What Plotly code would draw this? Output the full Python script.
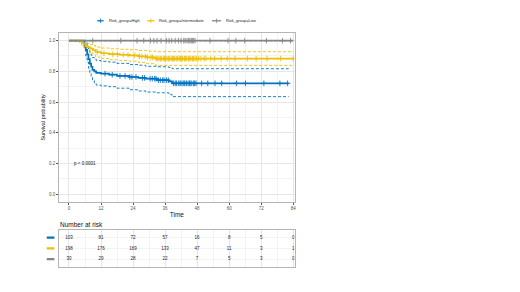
import numpy as np
import plotly.graph_objects as go

# ---------------- data ----------------
groups = ["Risk_group=High", "Risk_group=Intermediate", "Risk_group=Low"]
colors = ["#0073C2", "#EFC000", "#868686"]

high_t = [0, 5.8, 6.3, 6.8, 7.3, 7.8, 8.3, 8.8, 9.5, 10.2, 12, 15, 18, 22.5, 26, 28.7, 33, 37.4, 38.6]
high_s = [1.0, 0.97, 0.94, 0.91, 0.88, 0.85, 0.83, 0.81, 0.80, 0.79, 0.785, 0.778, 0.77, 0.763, 0.757, 0.752, 0.742, 0.735, 0.722]
high_lo = [1.0, 0.94, 0.90, 0.86, 0.82, 0.79, 0.76, 0.74, 0.725, 0.71, 0.705, 0.70, 0.69, 0.68, 0.672, 0.665, 0.66, 0.65, 0.635]
high_hi = [1.0, 1.0, 0.985, 0.965, 0.945, 0.92, 0.905, 0.89, 0.88, 0.87, 0.865, 0.86, 0.852, 0.844, 0.84, 0.833, 0.83, 0.825, 0.817]
high_end = 82.3
high_cens = [13.5, 16.2, 19.1, 21.0, 22.8, 23.6, 25.1, 27.5, 28.3, 30.4, 31.2, 32.1, 32.6, 33.5, 34.2, 35.1,
             35.6, 36.5, 37.2, 39.2, 39.8, 40.3, 41.1, 41.6, 42.0, 42.7, 43.1, 43.4, 44.0, 44.6, 45.1, 45.4,
             46.0, 46.7, 47.1, 47.6, 49.7, 52.0, 54.7, 57.2, 62.7, 66.1, 73.0, 79.0, 81.9]

int_t = [0, 4, 4.8, 5.5, 6.2, 7, 8, 9, 10, 12, 15, 19, 22.5, 26, 29, 32.4]
int_s = [1.0, 0.995, 0.985, 0.975, 0.965, 0.957, 0.948, 0.938, 0.926, 0.918, 0.912, 0.908, 0.904, 0.897, 0.891, 0.883]
int_lo = [1.0, 0.985, 0.97, 0.955, 0.942, 0.932, 0.92, 0.908, 0.893, 0.884, 0.875, 0.87, 0.866, 0.858, 0.85, 0.839]
int_hi = [1.0, 1.0, 1.0, 0.995, 0.988, 0.982, 0.975, 0.968, 0.958, 0.952, 0.947, 0.944, 0.941, 0.936, 0.932, 0.928]
int_end = 84.0
int_cens = [10.6, 13.1, 16.4, 18.2, 20.3, 22.1, 24.6, 26.4, 27.3, 28.6, 29.4, 30.7, 31.3, 32.6, 33.1, 33.7,
            34.2, 34.6, 35.3, 35.8, 36.1, 36.7, 37.2, 37.6, 38.3, 38.7, 39.1, 39.6, 40.2, 40.7, 41.3, 41.8,
            42.2, 42.6, 43.3, 43.7, 44.1, 44.8, 45.2, 45.7, 46.3, 46.6, 47.2, 47.8, 48.6, 49.4, 50.6, 51.3,
            53.1, 54.6, 57.0, 59.3, 62.2, 66.8, 70.1, 74.2, 79.3, 84.0]

low_t = [0]
low_s = [1.0]
low_lo = [1.0]
low_hi = [1.0]
low_end = 84.0
low_cens = [8.9, 19.4, 25.5, 28.0, 30.5, 31.8, 33.0, 34.5, 36.5, 37.5, 38.5, 39.8, 41.0, 42.0, 43.0,
            43.5, 44.2, 44.8, 45.3, 45.8, 46.2, 46.6, 47.2, 52.8, 59.6, 62.5, 65.8, 74.0, 80.0, 83.0]

risk_times = [0, 12, 24, 36, 48, 60, 72, 84]
risk_high = [103, 81, 72, 57, 16, 8, 5, 0]
risk_int = [198, 176, 169, 133, 47, 11, 3, 1]
risk_low = [30, 29, 28, 22, 7, 5, 3, 0]

pval_text = "p < 0.0001"
x_ticks = [0, 12, 24, 36, 48, 60, 72, 84]
y_ticks = [0.0, 0.2, 0.4, 0.6, 0.8, 1.0]

# ---------------- figure ----------------
fig = go.Figure()

curves = [
    (high_t, high_s, high_lo, high_hi, high_end, high_cens),
    (int_t, int_s, int_lo, int_hi, int_end, int_cens),
    (low_t, low_s, low_lo, low_hi, low_end, low_cens),
]

for (t, s, lo, hi, end, cens), col, name in zip(curves, colors, groups):
    xs = list(t) + [end]
    for ci in (lo, hi):
        fig.add_trace(go.Scatter(x=xs, y=list(ci) + [ci[-1]], mode="lines", line_shape="hv",
                                 line=dict(color=col, width=0.9, dash="3px,2px"),
                                 showlegend=False, hoverinfo="skip", xaxis="x", yaxis="y"))

for (t, s, lo, hi, end, cens), col, name in zip(curves, colors, groups):
    xs = list(t) + [end]
    fig.add_trace(go.Scatter(x=xs, y=list(s) + [s[-1]], mode="lines", line_shape="hv",
                             line=dict(color=col, width=1.7), name=name, showlegend=False,
                             xaxis="x", yaxis="y"))
    idx = np.searchsorted(np.array(t), np.array(cens), side="right") - 1
    cy = np.array(s)[idx]
    fig.add_trace(go.Scatter(x=cens, y=cy, mode="markers",
                             marker=dict(symbol="cross-thin", size=4, line=dict(color=col, width=0.9)),
                             showlegend=False, hoverinfo="skip", xaxis="x", yaxis="y"))

# risk table
rows = [risk_high, risk_int, risk_low]
row_y = [3, 2, 1]
for vals, yv in zip(rows, row_y):
    fig.add_trace(go.Scatter(x=risk_times, y=[yv] * len(risk_times), mode="text",
                             text=[str(v) for v in vals], textfont=dict(size=4.5, color="#222"),
                             cliponaxis=True, showlegend=False, hoverinfo="skip",
                             xaxis="x2", yaxis="y2"))

# row colour keys
for col, yv in zip(colors, row_y):
    fig.add_shape(type="line", xref="paper", yref="y2", x0=0.076, x1=0.091, y0=yv, y1=yv,
                  line=dict(color=col, width=2.2))

# manual legend (top)
leg_items = [(0.175, 0.1875, 0.195), (0.273, 0.287, 0.293), (0.400, 0.418, 0.424)]
for (x0, x1, xt), col, name in zip(leg_items, colors, groups):
    fig.add_shape(type="line", xref="paper", yref="paper", x0=x0, x1=x1, y0=0.955, y1=0.955,
                  line=dict(color=col, width=1.3))
    fig.add_shape(type="line", xref="paper", yref="paper", x0=(x0 + x1) / 2, x1=(x0 + x1) / 2,
                  y0=0.947, y1=0.963, line=dict(color=col, width=0.8))
    fig.add_annotation(xref="paper", yref="paper", x=xt, y=0.955, text=name, showarrow=False,
                       xanchor="left", yanchor="middle", font=dict(size=4, color="#222"))

fig.add_annotation(x=1.2, y=0.2, xref="x", yref="y", text=pval_text, showarrow=False,
                   xanchor="left", yanchor="middle", font=dict(size=4.5, color="#111"))

fig.add_annotation(xref="paper", yref="paper", x=0.0977, y=0.239, text="Number at risk",
                   showarrow=False, xanchor="left", yanchor="middle",
                   font=dict(size=6.5, color="#111"))

XR = [-3.7, 84.5]
grid_major = "#e6e6e6"
grid_minor = "#f3f3f3"
frame = "#b5b5b5"
tickfont = dict(size=4.5, color="#555")

fig.update_layout(
    width=512, height=284,
    margin=dict(l=0, r=0, t=0, b=0),
    paper_bgcolor="white", plot_bgcolor="white",
    font=dict(family="Liberation Sans, Arial, sans-serif"),
    showlegend=False,
    xaxis=dict(domain=[0.1002, 0.5619], range=XR, anchor="y", tickvals=x_ticks,
               ticks="outside", ticklen=2, tickwidth=0.6, tickcolor="#555", tickfont=tickfont,
               showgrid=True, gridcolor=grid_major, gridwidth=0.6,
               minor=dict(dtick=6, tick0=0, showgrid=True, gridcolor=grid_minor, gridwidth=0.5),
               showline=True, linecolor=frame, linewidth=0.8, mirror=True, zeroline=False,
               title=dict(text="Time", font=dict(size=6.5, color="#111"), standoff=2)),
    yaxis=dict(domain=[0.318, 0.912], range=[-0.05, 1.05], anchor="x", tickvals=y_ticks,
               ticktext=["0.0", "0.2", "0.4", "0.6", "0.8", "1.0"],
               ticks="outside", ticklen=2, tickwidth=0.6, tickcolor="#555", tickfont=tickfont,
               showgrid=True, gridcolor=grid_major, gridwidth=0.6,
               minor=dict(dtick=0.1, tick0=0, showgrid=True, gridcolor=grid_minor, gridwidth=0.5),
               showline=True, linecolor=frame, linewidth=0.8, mirror=True, zeroline=False,
               title=dict(text="Survival probability", font=dict(size=5.5, color="#111"), standoff=3)),
    xaxis2=dict(domain=[0.1002, 0.5619], range=XR, anchor="y2", tickvals=x_ticks,
                showticklabels=False, ticks="",
                showgrid=True, gridcolor=grid_major, gridwidth=0.6,
                minor=dict(dtick=6, tick0=0, showgrid=True, gridcolor=grid_minor, gridwidth=0.5),
                showline=True, linecolor=frame, linewidth=0.8, mirror=True, zeroline=False),
    yaxis2=dict(domain=[0.089, 0.218], range=[0.3, 3.7], anchor="x2", tickvals=row_y,
                showticklabels=False, ticks="",
                showgrid=True, gridcolor=grid_minor, gridwidth=0.5,
                showline=True, linecolor=frame, linewidth=0.8, mirror=True, zeroline=False),
)

fig.write_html("out.html")
